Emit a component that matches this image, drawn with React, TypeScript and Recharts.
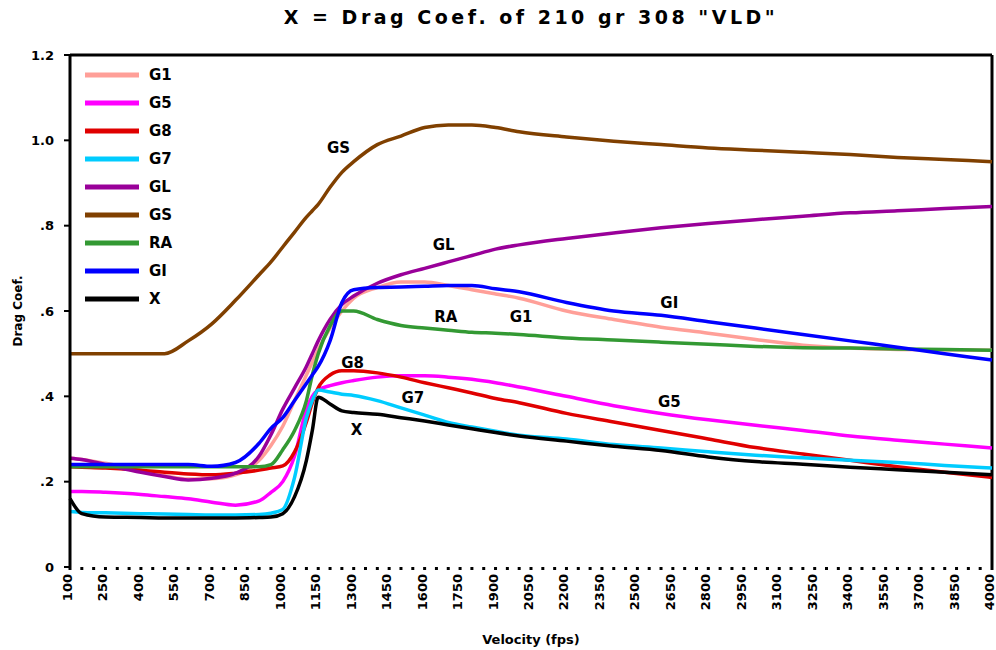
import { Legend, Line, LineChart, ReferenceDot, ReferenceLine, XAxis, YAxis } from 'recharts';

const velocity = [
  100, 150, 250, 400, 500, 600, 700, 800, 900, 950, 1000, 1050, 1100, 1125, 1150, 1200, 1250, 1300,
  1400, 1500, 1600, 1700, 1800, 1900, 2000, 2200, 2400, 2600, 2800, 3000, 3200, 3400, 3600, 3800, 4000,
];

const g1 = [
  0.255, 0.252, 0.243, 0.226, 0.214, 0.206, 0.207, 0.216, 0.25, 0.285, 0.33, 0.39, 0.45, 0.48, 0.51, 0.56, 0.6, 0.63,
  0.655, 0.668, 0.668, 0.66, 0.65, 0.64, 0.63, 0.6, 0.58, 0.562, 0.548, 0.533, 0.52, 0.513, 0.51, 0.509, 0.508,
];
const g5 = [
  0.177, 0.177, 0.175, 0.17, 0.165, 0.16, 0.152, 0.145, 0.155, 0.175, 0.2, 0.26, 0.37, 0.4, 0.415, 0.425, 0.432, 0.437,
  0.445, 0.448, 0.448, 0.445, 0.44, 0.432, 0.422, 0.4, 0.378, 0.36, 0.345, 0.332, 0.32, 0.307, 0.297, 0.288, 0.279,
];
const g8 = [
  0.235, 0.234, 0.232, 0.227, 0.222, 0.218, 0.216, 0.22, 0.227, 0.232, 0.237, 0.27, 0.34, 0.385, 0.42, 0.45, 0.46, 0.46,
  0.455, 0.445, 0.432, 0.42, 0.408, 0.395, 0.385, 0.36, 0.34, 0.32, 0.3, 0.28, 0.265, 0.25, 0.235, 0.222, 0.21,
];
const g7 = [
  0.13, 0.128, 0.127, 0.125, 0.124, 0.123, 0.122, 0.122, 0.123, 0.126, 0.135, 0.21, 0.35, 0.39, 0.415, 0.41, 0.405, 0.402,
  0.39, 0.373, 0.356, 0.339, 0.328, 0.318, 0.309, 0.3, 0.287, 0.279, 0.27, 0.262, 0.256, 0.25, 0.245, 0.238, 0.232,
];
const gl = [
  0.255, 0.252, 0.24, 0.222, 0.212, 0.204, 0.208, 0.22, 0.26, 0.31, 0.37, 0.42, 0.47, 0.5, 0.53, 0.58, 0.615, 0.635,
  0.665, 0.685, 0.7, 0.715, 0.73, 0.745, 0.755, 0.77, 0.783, 0.795, 0.805, 0.814, 0.822, 0.83, 0.835, 0.84, 0.845,
];
const gs = [
  0.5, 0.5, 0.5, 0.5, 0.5, 0.53, 0.57, 0.625, 0.685, 0.715, 0.75, 0.785, 0.82, 0.835, 0.85, 0.89, 0.925, 0.95,
  0.99, 1.01, 1.03, 1.036, 1.036, 1.03, 1.02, 1.008, 0.998, 0.99, 0.982, 0.977, 0.972, 0.967, 0.96, 0.955, 0.95,
];
const ra = [
  0.235, 0.235, 0.235, 0.235, 0.235, 0.235, 0.235, 0.235, 0.235, 0.24, 0.275, 0.32, 0.39, 0.45, 0.5, 0.565, 0.6, 0.6,
  0.58, 0.566, 0.56, 0.555, 0.55, 0.548, 0.545, 0.537, 0.532, 0.527, 0.522, 0.517, 0.514, 0.513, 0.511, 0.51, 0.508,
];
const gi = [
  0.24, 0.24, 0.24, 0.24, 0.24, 0.24, 0.236, 0.245, 0.29, 0.325, 0.35, 0.39, 0.43, 0.45, 0.47, 0.53, 0.62, 0.65,
  0.655, 0.656, 0.658, 0.66, 0.66, 0.652, 0.645, 0.62, 0.6, 0.59, 0.575, 0.56, 0.545, 0.53, 0.515, 0.5, 0.485,
];
const x = [
  0.16, 0.125, 0.117, 0.116, 0.115, 0.115, 0.115, 0.115, 0.116, 0.117, 0.125, 0.165, 0.25, 0.32, 0.398, 0.382, 0.366, 0.362,
  0.358, 0.35, 0.342, 0.333, 0.324, 0.315, 0.307, 0.295, 0.283, 0.273, 0.258, 0.247, 0.241, 0.234, 0.228, 0.222, 0.216,
];

const labeledVelocities = [
  100, 250, 400, 550, 700, 850, 1000, 1150, 1300, 1450, 1600, 1750, 1900, 2050, 2200, 2350, 2500, 2650, 2800, 2950,
  3100, 3250, 3400, 3550, 3700, 3850, 4000,
];
const dragTicks = [0, 0.2, 0.4, 0.6, 0.8, 1.0, 1.2];

const curveLabels = [
  { text: 'GS', v: 1236, cd: 0.982 },
  { text: 'GL', v: 1681, cd: 0.755 },
  { text: 'RA', v: 1690, cd: 0.586 },
  { text: 'G1', v: 2008, cd: 0.586 },
  { text: 'GI', v: 2635, cd: 0.619 },
  { text: 'G8', v: 1295, cd: 0.48 },
  { text: 'G7', v: 1550, cd: 0.396 },
  { text: 'X', v: 1312, cd: 0.321 },
  { text: 'G5', v: 2635, cd: 0.387 },
];

const series = [
  { key: 'G1', values: g1, color: '#ff9f98' },
  { key: 'G5', values: g5, color: '#ff00ff' },
  { key: 'G8', values: g8, color: '#e00000' },
  { key: 'G7', values: g7, color: '#00ccff' },
  { key: 'GL', values: gl, color: '#990099' },
  { key: 'GS', values: gs, color: '#804000' },
  { key: 'RA', values: ra, color: '#339933' },
  { key: 'GI', values: gi, color: '#0000ff' },
  { key: 'X', values: x, color: '#000000' },
];

const data = velocity.map((v, i) => {
  const row: Record<string, number> = { v };
  series.forEach((s) => {
    row[s.key] = s.values[i];
  });
  return row;
});

// every 50 fps gets a tick mark, only the 150 steps get a label
const velocityTicks: number[] = [];
for (let t = 100; t <= 4000; t += 50) velocityTicks.push(t);

const FONT = '"DejaVu Sans", sans-serif';

function VelocityTick({ x: tx, y: ty, payload }: any) {
  if (!labeledVelocities.includes(payload.value)) return null;
  return (
    <g transform={`translate(${tx},${ty})`}>
      <text
        transform="rotate(-90)"
        x={-2}
        y={0}
        dy={2}
        textAnchor="end"
        fontFamily={FONT}
        fontWeight="bold"
        fontSize={13}
        fill="#000"
      >
        {payload.value}
      </text>
    </g>
  );
}

function formatDrag(value: number) {
  if (value === 0) return '0';
  return value < 1 ? value.toFixed(1).slice(1) : value.toFixed(1);
}

function CurveLegend() {
  return (
    <div style={{ fontFamily: FONT, fontWeight: 'bold', fontSize: 15 }}>
      {series.map((s) => (
        <div key={s.key} style={{ display: 'flex', alignItems: 'center', height: 28 }}>
          <svg width={54} height={6} style={{ marginRight: 10 }}>
            <line x1={0} y1={3} x2={54} y2={3} stroke={s.color} strokeWidth={5} />
          </svg>
          <span>{s.key}</span>
        </div>
      ))}
    </div>
  );
}

export default function App() {
  return (
    <div style={{ position: 'absolute', left: 0, top: 0, width: 996, height: 650, background: '#fff' }}>
      <div
        style={{
          position: 'absolute',
          left: 70,
          top: 6,
          width: 922,
          textAlign: 'center',
          fontFamily: FONT,
          fontWeight: 'bold',
          fontSize: 19,
          letterSpacing: 3.5,
        }}
      >
        X = Drag Coef. of 210 gr 308 "VLD"
      </div>
      <LineChart width={996} height={650} data={data} margin={{ top: 55, right: 4, bottom: 0, left: 0 }}>
        <XAxis
          dataKey="v"
          type="number"
          domain={[100, 4000]}
          ticks={velocityTicks}
          interval={0}
          tick={<VelocityTick />}
          tickSize={3}
          tickLine={{ stroke: '#000', strokeWidth: 3 }}
          axisLine={false}
          height={83}
          label={{
            value: 'Velocity (fps)',
            position: 'insideBottom',
            offset: 6,
            style: { fontFamily: FONT, fontWeight: 'bold', fontSize: 13, fill: '#000' },
          }}
        />
        <YAxis
          type="number"
          domain={[0, 1.2]}
          ticks={dragTicks}
          tickFormatter={formatDrag}
          width={70}
          tickSize={6}
          tickMargin={10}
          tick={{ fontFamily: FONT, fontWeight: 'bold', fontSize: 13, fill: '#000' }}
          tickLine={{ stroke: '#000', strokeWidth: 2 }}
          axisLine={{ stroke: '#000', strokeWidth: 3 }}
          label={{
            content: ({ viewBox }: any) => (
              <text
                x={viewBox.x + 18}
                y={viewBox.y + viewBox.height / 2}
                transform={`rotate(-90, ${viewBox.x + 18}, ${viewBox.y + viewBox.height / 2})`}
                textAnchor="middle"
                dominantBaseline="central"
                fontFamily={FONT}
                fontWeight="bold"
                fontSize={12}
                fill="#000"
              >
                Drag Coef.
              </text>
            ),
          }}
        />
        <ReferenceLine y={1.2} stroke="#000" strokeWidth={3} />
        <ReferenceLine x={4000} stroke="#000" strokeWidth={3} />
        {series.map((s) => (
          <Line
            key={s.key}
            type="monotone"
            dataKey={s.key}
            stroke={s.color}
            strokeWidth={3.5}
            dot={false}
            isAnimationActive={false}
          />
        ))}
        {curveLabels.map((l) => (
          <ReferenceDot
            key={l.text}
            x={l.v}
            y={l.cd}
            r={0}
            stroke="none"
            label={{
              value: l.text,
              position: 'center',
              style: { fontFamily: FONT, fontWeight: 'bold', fontSize: 15, fill: '#000' },
            }}
          />
        ))}
        <Legend
          layout="vertical"
          align="center"
          verticalAlign="middle"
          wrapperStyle={{ left: 85, top: 61, width: 120 }}
          content={<CurveLegend />}
        />
      </LineChart>
    </div>
  );
}
